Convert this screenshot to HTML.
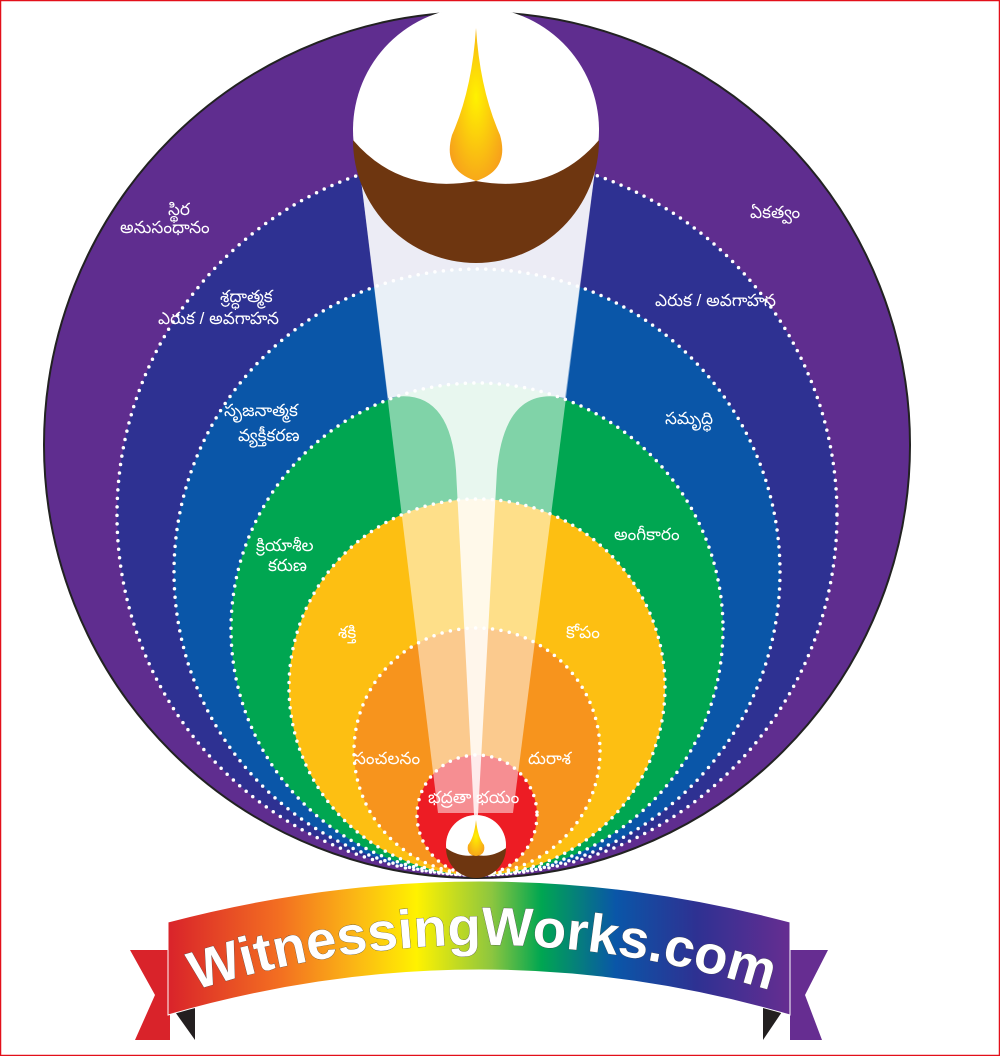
<!DOCTYPE html>
<html><head><meta charset="utf-8"><style>
html,body{margin:0;padding:0;background:#fff;}
svg{display:block;}
.t{font-family:"Liberation Sans","Noto Sans CJK SC",sans-serif;fill:#fff;font-size:17px;}
</style></head><body>
<svg width="1000" height="1056" viewBox="0 0 1000 1056" xmlns="http://www.w3.org/2000/svg">
<defs>
<linearGradient id="rb" x1="0" x2="1" y1="0" y2="0">
<stop offset="0" stop-color="#d9232a"/><stop offset="0.18" stop-color="#f36f21"/>
<stop offset="0.3" stop-color="#fbb615"/><stop offset="0.4" stop-color="#fff200"/>
<stop offset="0.52" stop-color="#8dc63f"/><stop offset="0.6" stop-color="#00a651"/>
<stop offset="0.72" stop-color="#0a56a8"/><stop offset="0.85" stop-color="#2e3192"/>
<stop offset="1" stop-color="#662d91"/></linearGradient>
<radialGradient id="fl" cx="0.5" cy="0.45" r="0.6"><stop offset="0" stop-color="#fff200"/><stop offset="1" stop-color="#f7a21b"/></radialGradient>
<path id="arc" d="M190,992 Q480,898 775,992"/>
</defs>
<rect x="0.5" y="0.5" width="999" height="1055" fill="none" stroke="#e3101a" stroke-width="1.5"/>
<circle cx="477" cy="445" r="433" fill="#5f2d8f" stroke="#222" stroke-width="2"/>
<g stroke="#fff" stroke-width="3.5" stroke-linecap="round" stroke-dasharray="0 8.5">
<circle cx="477" cy="515" r="360" fill="#2e3192"/>
<circle cx="477" cy="572" r="303" fill="#0a56a8"/>
<circle cx="477" cy="629" r="246" fill="#00a651"/>
<circle cx="477" cy="687" r="188" fill="#fdbf12"/>
<circle cx="477" cy="751" r="123" fill="#f7941d"/>
<circle cx="477" cy="815" r="60" fill="#ed1c24"/>
</g>
<path d="M358,155 L597,155 L513,813 L438,813 Z" fill="#fff" fill-opacity="0.5"/>
<path d="M358,155 L597,155 L565,398 Q505,385 497,470 L478,815 L474,815 L456,470 Q450,385 388,398 Z" fill="#fff" fill-opacity="0.82"/>
<circle cx="476" cy="130" r="123" fill="#fff"/>
<path d="M353,140 Q400,195 476,181 Q552,195 599,140 A123,123 0 0 1 353,140 Z" fill="#6e3610"/>
<path d="M476,28 Q480,90 500,135 Q510,170 476,181 Q442,170 452,135 Q472,90 476,28 Z" fill="url(#fl)"/>
<circle cx="476" cy="845" r="30" fill="#fff"/>
<path d="M446,848 Q460,858 476,855 Q492,858 506,848 A30,30 0 0 1 446,848 Z" fill="#6e3610"/>
<path d="M476,820 Q478,838 484,845 Q486,855 476,856 Q466,855 468,845 Q474,838 476,820 Z" fill="url(#fl)"/>
<g class="t">
<text x="168" y="215">స్థిర</text>
<text x="120" y="233">అనుసంధానం</text>
<text x="750" y="218">ఏకత్వం</text>
<text x="220" y="302">శ్రద్ధాత్మక</text>
<text x="158" y="324">ఎరుక / అవగాహన</text>
<text x="655" y="306">ఎరుక / అవగాహన</text>
<text x="224" y="416">సృజనాత్మక</text>
<text x="238" y="441">వ్యక్తీకరణ</text>
<text x="665" y="424">సమృద్ధి</text>
<text x="256" y="551">క్రియాశీల</text>
<text x="268" y="571">కరుణ</text>
<text x="614" y="540">అంగీకారం</text>
<text x="338" y="638">శక్తి</text>
<text x="566" y="638">కోపం</text>
<text x="354" y="764">సంచలనం</text>
<text x="528" y="764">దురాశ</text>
<text x="428" y="803">భద్రతా భయం</text>
</g>
<path d="M130,950 L170,950 L170,1040 L135,1040 L155,995 Z" fill="#d9232a"/>
<path d="M828,950 L790,950 L790,1040 L822,1040 L805,995 Z" fill="#662d91"/>
<path d="M168,1002 L195,1000 L195,1040 Z" fill="#231f20"/>
<path d="M790,1000 L763,1000 L763,1040 Z" fill="#231f20"/>
<path d="M168,922 Q480,840 790,922 L790,1015 Q480,925 168,1015 Z" fill="url(#rb)" stroke="#fff" stroke-width="1"/>
<text font-family="Liberation Sans,sans-serif" font-weight="bold" font-size="54" fill="#fff" stroke="#444" stroke-width="0.6" style="paint-order:stroke"><textPath href="#arc" startOffset="50%" text-anchor="middle" textLength="585" lengthAdjust="spacingAndGlyphs">WitnessingWorks.com</textPath></text>
</svg>
</body></html>
